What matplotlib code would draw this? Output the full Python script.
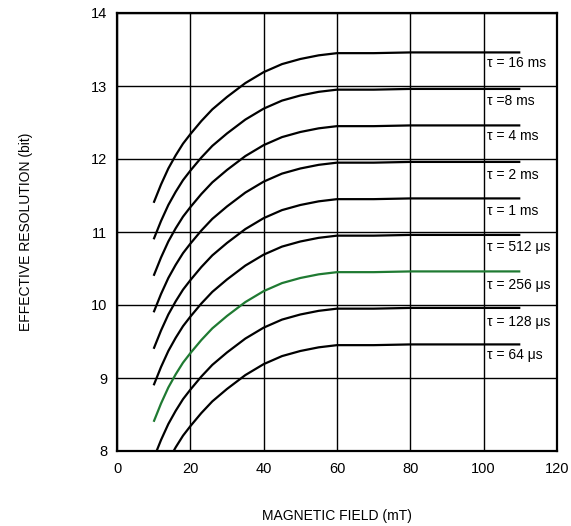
"""Effective resolution vs magnetic field, one curve per integration time tau."""

import matplotlib

matplotlib.use("Agg")
import matplotlib.pyplot as plt  # noqa: E402

plt.rcParams["font.family"] = ["Liberation Sans", "DejaVu Sans"]

# magnetic field (mT) sample points
field = [10, 12, 14, 16, 18, 20, 23, 26, 30, 35, 40, 45, 50, 55, 60, 70, 80, 90, 100, 110]

res_16ms = [11.40, 11.65, 11.87, 12.05, 12.21, 12.34, 12.52, 12.68, 12.85, 13.04,
            13.19, 13.30, 13.37, 13.42, 13.45, 13.45, 13.46, 13.46, 13.46, 13.46]
res_8ms = [10.90, 11.15, 11.37, 11.55, 11.71, 11.84, 12.02, 12.18, 12.35, 12.54,
           12.69, 12.80, 12.87, 12.92, 12.95, 12.95, 12.96, 12.96, 12.96, 12.96]
res_4ms = [10.40, 10.65, 10.87, 11.05, 11.21, 11.34, 11.52, 11.68, 11.85, 12.04,
           12.19, 12.30, 12.37, 12.42, 12.45, 12.45, 12.46, 12.46, 12.46, 12.46]
res_2ms = [9.90, 10.15, 10.37, 10.55, 10.71, 10.84, 11.02, 11.18, 11.35, 11.54,
           11.69, 11.80, 11.87, 11.92, 11.95, 11.95, 11.96, 11.96, 11.96, 11.96]
res_1ms = [9.40, 9.65, 9.87, 10.05, 10.21, 10.34, 10.52, 10.68, 10.85, 11.04,
           11.19, 11.30, 11.37, 11.42, 11.45, 11.45, 11.46, 11.46, 11.46, 11.46]
res_512us = [8.90, 9.15, 9.37, 9.55, 9.71, 9.84, 10.02, 10.18, 10.35, 10.54,
             10.69, 10.80, 10.87, 10.92, 10.95, 10.95, 10.96, 10.96, 10.96, 10.96]
res_256us = [8.40, 8.65, 8.87, 9.05, 9.21, 9.34, 9.52, 9.68, 9.85, 10.04,
             10.19, 10.30, 10.37, 10.42, 10.45, 10.45, 10.46, 10.46, 10.46, 10.46]
res_128us = [7.90, 8.15, 8.37, 8.55, 8.71, 8.84, 9.02, 9.18, 9.35, 9.54,
             9.69, 9.80, 9.87, 9.92, 9.95, 9.95, 9.96, 9.96, 9.96, 9.96]
res_64us = [7.40, 7.65, 7.87, 8.05, 8.21, 8.34, 8.52, 8.68, 8.85, 9.04,
            9.19, 9.30, 9.37, 9.42, 9.45, 9.45, 9.46, 9.46, 9.46, 9.46]

curves = [res_16ms, res_8ms, res_4ms, res_2ms, res_1ms, res_512us, res_256us, res_128us, res_64us]
labels = ["τ = 16 ms", "τ =8 ms", "τ = 4 ms", "τ = 2 ms", "τ = 1 ms",
          "τ = 512 μs", "τ = 256 μs", "τ = 128 μs", "τ = 64 μs"]
label_y = [13.31, 12.80, 12.31, 11.78, 11.29, 10.80, 10.27, 9.77, 9.32]
highlight = "τ = 256 μs"

x_ticks = [0, 20, 40, 60, 80, 100, 120]
y_ticks = [8, 9, 10, 11, 12, 13, 14]

fig = plt.figure(figsize=(5.71, 5.26), dpi=100)
ax = fig.add_axes([117 / 571, 75 / 526, 440 / 571, 438 / 526])

for ys, lab in zip(curves, labels):
    color = "#1f7a32" if lab == highlight else "black"
    ax.plot(field, ys, color=color, linewidth=1.6, solid_capstyle="butt", zorder=3)

for lab, y in zip(labels, label_y):
    ax.text(101, y, lab, fontsize=10, ha="left", va="center", zorder=4)

ax.set_xlim(0, 120)
ax.set_ylim(8, 14)
ax.set_xticks(x_ticks)
ax.set_yticks(y_ticks)
ax.tick_params(length=0, labelsize=10.5)
ax.tick_params(axis="x", pad=8)
ax.tick_params(axis="y", pad=7)
ax.grid(True, color="black", linewidth=1.0)
ax.set_axisbelow(True)
for s in ax.spines.values():
    s.set_linewidth(1.6)

ax.set_xlabel("MAGNETIC FIELD (mT)", fontsize=10, labelpad=24)
ax.set_ylabel("EFFECTIVE RESOLUTION (bit)", fontsize=10)
ax.yaxis.set_label_coords(-0.19, 0.5)

fig.savefig("out.png", dpi=100)
